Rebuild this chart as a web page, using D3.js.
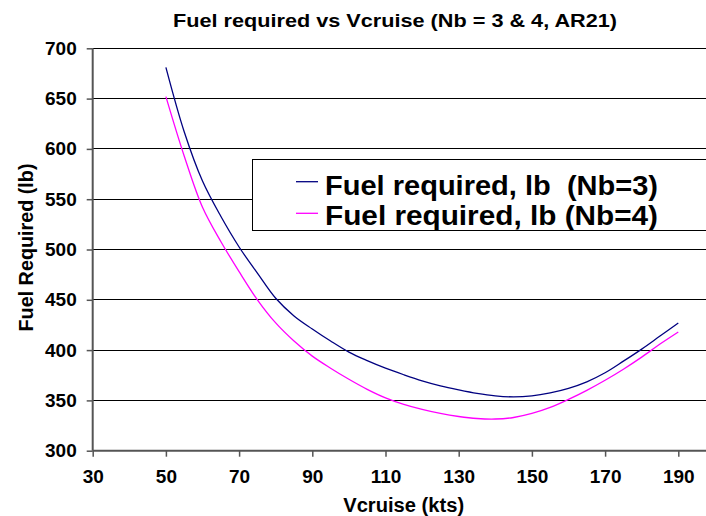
<!DOCTYPE html>
<html>
<head>
<meta charset="utf-8">
<script src="https://cdn.jsdelivr.net/npm/d3@7"></script>
<style>
  html, body { margin: 0; padding: 0; background: #fff; }
  svg { display: block; font-family: Arial, "Liberation Sans", sans-serif; }
</style>
</head>
<body>
<svg id="chart" width="706" height="516"></svg>
<script>
// Cruise speed (kts) and fuel required (lb) for 3- and 4-blade rotors
const vcruise = [50, 55, 60, 65, 70, 75, 80, 85, 90, 95, 100, 105, 110, 115, 120, 125, 130, 135, 140, 145, 150, 155, 160, 165, 170, 175, 180, 185, 190];
const fuelNb3 = [681, 617, 568, 533, 502.5, 476.5, 451.5, 434, 421, 409, 398, 389.5, 382, 375.5, 369.5, 364.5, 360.5, 357, 354.5, 353.5, 354.5, 357.5, 362, 368.5, 377.5, 389, 401, 414, 427];
const fuelNb4 = [652, 593, 542, 508, 478, 450, 427, 409, 394, 382, 371, 361, 352.5, 346, 341, 337, 334, 332, 331.5, 333, 337, 343, 351, 360, 370, 381, 393, 406, 418];

const xTicks = [30, 50, 70, 90, 110, 130, 150, 170, 190];
const yTicks = [300, 350, 400, 450, 500, 550, 600, 650, 700];

const seriesNames = ["Fuel required, lb  (Nb=3)", "Fuel required, lb (Nb=4)"];
const seriesColors = ["#000080", "#ff00ff"];

const svg = d3.select("#chart");

const x = d3.scaleLinear().domain([30, 190]).range([92.7, 678.3]);
const y = d3.scaleLinear().domain([300, 700]).range([450.7, 48.3]);
const plotRight = 716;

// horizontal gridlines
svg.append("g")
  .selectAll("line")
  .data(yTicks.filter(d => d > 300))
  .join("line")
  .attr("x1", x(30)).attr("x2", plotRight)
  .attr("y1", d => y(d)).attr("y2", d => y(d))
  .attr("stroke", "#000").attr("stroke-width", 1)
  .attr("shape-rendering", "crispEdges");

// axes
const xAxis = d3.axisBottom(x).tickValues(xTicks).tickSize(6).tickPadding(8).tickFormat(d3.format("d"));
const yAxis = d3.axisLeft(y).tickValues(yTicks).tickSize(6).tickPadding(10).tickFormat(d3.format("d"));

const gx = svg.append("g").attr("transform", `translate(0,${y(300)})`).call(xAxis);
gx.select(".domain").attr("d", `M${x(30)},0H${plotRight}`);
const gy = svg.append("g").attr("transform", `translate(${x(30)},0)`).call(yAxis);
gy.select(".domain").attr("d", `M0,${y(700)}V${y(300)}`);

[gx, gy].forEach(g => {
  g.select(".domain").attr("stroke", "#555").attr("stroke-width", 2);
  g.selectAll(".tick line").attr("stroke", "#555").attr("stroke-width", 1.5);
  g.selectAll(".tick text")
    .attr("fill", "#000")
    .style("font-family", "Arial, 'Liberation Sans', sans-serif")
    .style("font-weight", "bold")
    .style("font-size", "19px");
});
gx.selectAll(".tick text").attr("dy", "0.95em");

// series lines
const line = d3.line()
  .x((d, i) => x(vcruise[i]))
  .y(d => y(d))
  .curve(d3.curveCatmullRom.alpha(0.5));

[fuelNb3, fuelNb4].forEach((vals, k) => {
  svg.append("path")
    .datum(vals)
    .attr("d", line)
    .attr("fill", "none")
    .attr("stroke", seriesColors[k])
    .attr("stroke-width", 1.3);
});

// title and axis titles
svg.append("text")
  .attr("x", 395).attr("y", 27)
  .attr("text-anchor", "middle")
  .attr("textLength", 444).attr("lengthAdjust", "spacingAndGlyphs")
  .style("font-weight", "bold").style("font-size", "18px")
  .text("Fuel required vs Vcruise (Nb = 3 & 4, AR21)");

svg.append("text")
  .attr("x", 403.7).attr("y", 511.5)
  .attr("text-anchor", "middle")
  .attr("textLength", 121).attr("lengthAdjust", "spacingAndGlyphs")
  .style("font-weight", "bold").style("font-size", "19.5px")
  .text("Vcruise (kts)");

svg.append("text")
  .attr("transform", "translate(33,247.5) rotate(-90)")
  .attr("text-anchor", "middle")
  .attr("textLength", 168).attr("lengthAdjust", "spacingAndGlyphs")
  .style("font-weight", "bold").style("font-size", "20px")
  .text("Fuel Required (lb)");

// legend
const legend = svg.append("g");
legend.append("rect")
  .attr("x", 252.5).attr("y", 159.5)
  .attr("width", 470).attr("height", 71)
  .attr("fill", "#fff").attr("stroke", "#000").attr("stroke-width", 1);

const legendBase = [194.5, 225];
const legendSample = [181.7, 213.3];
seriesNames.forEach((name, k) => {
  legend.append("line")
    .attr("x1", 296).attr("x2", 318)
    .attr("y1", legendSample[k]).attr("y2", legendSample[k])
    .attr("stroke", seriesColors[k]).attr("stroke-width", 1.3);
  legend.append("text")
    .attr("x", 325).attr("y", legendBase[k])
    .attr("textLength", 333).attr("lengthAdjust", "spacingAndGlyphs")
    .style("white-space", "pre")
    .style("font-weight", "bold").style("font-size", "28px")
    .text(name);
});
</script>
</body>
</html>
